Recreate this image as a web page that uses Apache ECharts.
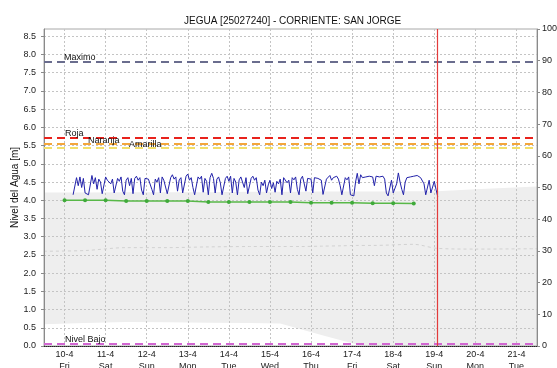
<!DOCTYPE html>
<html>
<head>
<meta charset="utf-8">
<script src="https://cdn.jsdelivr.net/npm/echarts@6/dist/echarts.min.js"></script>
<style>
  html, body { margin: 0; padding: 0; background: #fff; }
  #chart { width: 557px; height: 368px; }
</style>
</head>
<body>
<div id="chart"></div>
<script>
// Station and axis text
const chartTitle = 'JEGUA [25027240] - CORRIENTE: SAN JORGE';
const yAxisTitle = 'Nivel del Agua [m]';
const dayTicks = [10, 11, 12, 13, 14, 15, 16, 17, 18, 19, 20, 21];
const weekdays = ['Fri', 'Sat', 'Sun', 'Mon', 'Tue', 'Wed', 'Thu', 'Fri', 'Sat', 'Sun', 'Mon', 'Tue'];
const monthNumber = 4;
const levelTicks = [0, 0.5, 1, 1.5, 2, 2.5, 3, 3.5, 4, 4.5, 5, 5.5, 6, 6.5, 7, 7.5, 8, 8.5];

// Alert thresholds [m]
const thresholdNames = ['Maximo', 'Roja', 'Naranja', 'Amarilla', 'Nivel Bajo'];
const thresholdValues = [7.8, 5.72, 5.55, 5.43, 0.05];

// Current time marker (day of month, fractional)
const nowDay = 19.07;

// Observed level, hourly from 10-4 05:00 [m]
const observedStartDay = 10 + 5 / 24;
const observedHourly = [
  // 10-4 (05:00-23:00)
  4.15, 4.15, 4.62, 4.40, 4.64, 4.35, 4.60, 4.20, 4.15, 4.15, 4.16, 4.68, 4.45, 4.62, 4.30, 4.58, 4.50, 4.18, 4.15,
  // 11-4
  4.64, 4.55, 4.60, 4.45, 4.58, 4.20, 4.16, 4.60, 4.52, 4.64, 4.25, 4.15, 4.55, 4.62, 4.40, 4.60, 4.18, 4.60, 4.66, 4.55, 4.62, 4.28, 4.15, 4.60,
  // 12-4
  4.65, 4.58, 4.62, 4.30, 4.15, 4.58, 4.50, 4.62, 4.20, 4.64, 4.55, 4.60, 4.18, 4.15, 4.62, 4.70, 4.58, 4.64, 4.25, 4.56, 4.62, 4.20, 4.15, 4.66,
  // 13-4
  4.72, 4.55, 4.62, 4.35, 4.15, 4.18, 4.64, 4.58, 4.66, 4.22, 4.60, 4.52, 4.15, 4.62, 4.74, 4.60, 4.20, 4.58, 4.64, 4.48, 4.15, 4.20, 4.60, 4.66,
  // 14-4
  4.52, 4.66, 4.20, 4.60, 4.50, 4.15, 4.56, 4.64, 4.60, 4.35, 4.62, 4.18, 4.15, 4.60, 4.66, 4.55, 4.62, 4.28, 4.15, 4.50, 4.40, 4.55, 4.20, 4.42,
  // 15-4
  4.55, 4.32, 4.48, 4.22, 4.52, 4.45, 4.58, 4.15, 4.62, 4.60, 4.48, 4.55, 4.20, 4.62, 4.56, 4.64, 4.30, 4.15, 4.58, 4.66, 4.62, 4.25, 4.60, 4.64,
  // 16-4
  4.58, 4.20, 4.62, 4.66, 4.60, 4.64, 4.55, 4.16, 4.15, 4.58, 4.62, 4.68, 4.55, 4.62, 4.60, 4.66, 4.58, 4.40, 4.15, 4.18, 4.62, 4.56, 4.64, 4.15,
  // 17-4
  4.15, 4.12, 4.50, 4.74, 4.45, 4.70, 4.62, 4.66, 4.64, 4.60, 4.66, 4.62, 4.64, 4.40, 4.66, 4.62, 4.64, 4.60, 4.66, 4.58, 4.20, 4.12, 4.15, 4.55,
  // 18-4
  4.20, 4.15, 4.45, 4.75, 4.50, 4.30, 4.15, 4.50, 4.62, 4.66, 4.64, 4.62, 4.66, 4.64, 4.68, 4.66, 4.62, 4.64, 4.45, 4.15, 4.18, 4.55, 4.20, 4.15,
  // 19-4 (00:00-02:00)
  4.52, 4.30, 4.10
];

// Forecast level every 12 h [m]
const forecastDays = [10, 10.5, 11, 11.5, 12, 12.5, 13, 13.5, 14, 14.5, 15, 15.5, 16, 16.5, 17, 17.5, 18, 18.5];
const forecastValues = [4.00, 4.00, 4.00, 3.98, 3.98, 3.98, 3.98, 3.95, 3.95, 3.95, 3.95, 3.95, 3.93, 3.93, 3.93, 3.92, 3.92, 3.91];

// Historical range band [m]
const bandDays = [9.5, 10.5, 11.5, 12.5, 13.5, 14.5, 15.25, 15.75, 16.25, 16.75, 17.1, 17.5, 18.5, 19.07, 20, 21.5];
const bandLow  = [0.60, 0.63, 0.66, 0.65, 0.64, 0.63, 0.62, 0.46, 0.30, 0.15, 0.05, 0.0, 0.0, 0.0, 0.0, 0.0];
const bandHigh = [4.21, 4.21, 4.22, 4.22, 4.22, 4.23, 4.23, 4.23, 4.24, 4.24, 4.24, 4.24, 4.25, 4.25, 4.30, 4.38];
const bandMid  = [2.60, 2.62, 2.70, 2.70, 2.72, 2.73, 2.73, 2.73, 2.74, 2.75, 2.76, 2.76, 2.79, 2.68, 2.66, 2.67];

const FONT = 'Liberation Sans';

const observedData = observedHourly.map((v, i) => [observedStartDay + i / 24, v]);
const forecastData = forecastDays.map((d, i) => [d, forecastValues[i]]);
const bandHighData = bandDays.map((d, i) => [d, bandHigh[i]]);
const bandLowData = bandDays.map((d, i) => [d, bandLow[i]]);
const bandMidData = bandDays.map((d, i) => [d, bandMid[i]]);

const thresholdStyle = {
  'Maximo':     { color: '#6a6d8e', dx: 20, dy: 0 },
  'Roja':       { color: '#e8221c', dx: 21, dy: 0 },
  'Naranja':    { color: '#f4a63a', dx: 44, dy: -1 },
  'Amarilla':   { color: '#f2df6a', dx: 85, dy: -1 },
  'Nivel Bajo': { color: '#d266d2', dx: 21, dy: 0 }
};

const thresholdLines = thresholdNames.map((name, i) => {
  const s = thresholdStyle[name];
  return {
    name: name,
    yAxis: thresholdValues[i],
    lineStyle: { color: s.color, type: [8, 5], width: 2 },
    label: {
      show: true,
      formatter: name,
      position: 'insideStartTop',
      distance: [s.dx, s.dy],
      color: '#111',
      fontFamily: FONT,
      fontSize: 9
    }
  };
});

const chart = echarts.init(document.getElementById('chart'), null, { renderer: 'canvas' });

chart.setOption({
  animation: false,
  backgroundColor: '#fff',
  title: {
    text: chartTitle,
    left: 179,
    top: 11,
    textStyle: { fontFamily: FONT, fontSize: 10, fontWeight: 'normal', color: '#111' }
  },
  grid: {
    left: 44, right: 20, top: 29, bottom: 22,
    outerBoundsMode: 'none',
    containLabel: false,
    show: true, borderColor: '#a8a8a8', borderWidth: 1, backgroundColor: 'transparent'
  },
  xAxis: {
    type: 'value',
    min: 9.5,
    max: 21.5,
    axisLine: { lineStyle: { color: '#222', type: [1, 1], width: 1 } },
    axisTick: { show: false, customValues: dayTicks },
    axisLabel: {
      customValues: dayTicks,
      formatter: v => {
        const idx = dayTicks.indexOf(Math.round(v));
        return Math.round(v) + '-' + monthNumber + '\n' + (weekdays[idx] || '');
      },
      fontFamily: FONT, fontSize: 9, color: '#222', margin: 3, lineHeight: 12
    },
    splitLine: { show: true, lineStyle: { color: '#c4c4c4', type: [2, 2], width: 1 } }
  },
  yAxis: [
    {
      type: 'value',
      min: 0,
      max: 8.7,
      name: yAxisTitle,
      nameLocation: 'middle',
      nameGap: 24,
      nameMoveOverlap: false,
      nameTextStyle: { fontFamily: FONT, fontSize: 10, color: '#111' },
      axisLine: { show: true, lineStyle: { color: '#8a8a8a' } },
      axisTick: { show: true, length: 3, customValues: levelTicks, lineStyle: { color: '#8a8a8a' } },
      axisLabel: {
        customValues: levelTicks,
        formatter: v => v.toFixed(1),
        fontFamily: FONT, fontSize: 9, color: '#222', margin: 8
      },
      splitLine: { show: true, lineStyle: { color: '#c4c4c4', type: [2, 2], width: 1 } }
    },
    {
      type: 'value',
      min: 0,
      max: 100,
      interval: 10,
      position: 'right',
      axisLine: { show: true, lineStyle: { color: '#8a8a8a' } },
      axisTick: { show: true, length: 3, lineStyle: { color: '#8a8a8a' } },
      axisLabel: { fontFamily: FONT, fontSize: 9, color: '#222', margin: 5 },
      splitLine: { show: false }
    }
  ],
  series: [
    {
      // upper edge of the historical band, filled down to the axis
      name: 'band-high',
      type: 'line',
      z: -2,
      data: bandHighData,
      symbol: 'none',
      lineStyle: { width: 0, opacity: 0 },
      areaStyle: { color: '#eeeeee', opacity: 1, origin: 'start' },
      silent: true
    },
    {
      // lower edge of the band, cleared back to the plot background
      name: 'band-low',
      type: 'line',
      z: -1.5,
      data: bandLowData,
      symbol: 'none',
      lineStyle: { width: 0, opacity: 0 },
      areaStyle: { color: '#ffffff', opacity: 1, origin: 'start' },
      silent: true
    },
    {
      name: 'band-mid',
      type: 'line',
      z: -1,
      data: bandMidData,
      symbol: 'none',
      smooth: 0.3,
      lineStyle: { color: '#d2d2d2', type: [3, 3], width: 1 },
      silent: true
    },
    {
      name: 'thresholds',
      type: 'line',
      data: [],
      markLine: {
        silent: true,
        symbol: 'none',
        animation: false,
        data: thresholdLines
      }
    },
    {
      name: 'now',
      type: 'line',
      z: 5,
      data: [],
      itemStyle: { color: '#e33b3b' },
      lineStyle: { color: '#e33b3b' },
      markLine: {
        silent: true,
        symbol: 'none',
        animation: false,
        lineStyle: { color: '#e33b3b', type: 'solid', width: 1.2, opacity: 1 },
        label: { show: false },
        data: [{ xAxis: nowDay }]
      }
    },
    {
      name: 'forecast',
      type: 'line',
      data: forecastData,
      symbol: 'circle',
      symbolSize: 4,
      showAllSymbol: true,
      itemStyle: { color: '#3faa3a' },
      lineStyle: { color: '#58b848', width: 1.5 }
    },
    {
      name: 'observed',
      type: 'line',
      data: observedData,
      symbol: 'none',
      lineStyle: { color: '#2222aa', width: 1 }
    }
  ]
});
</script>
</body>
</html>
